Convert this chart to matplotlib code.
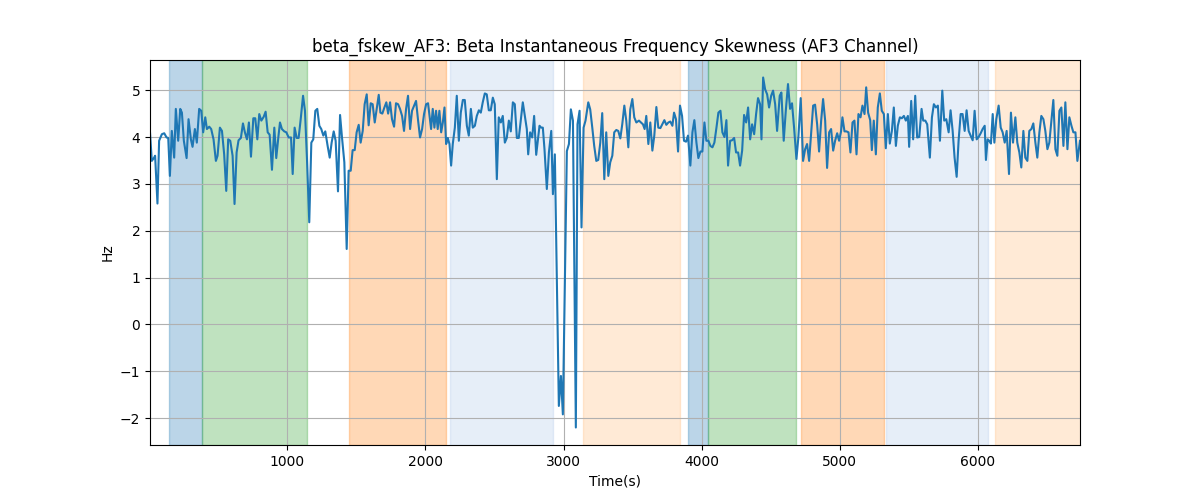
import matplotlib
matplotlib.use('Agg')
import matplotlib.pyplot as plt

title = 'beta_fskew_AF3: Beta Instantaneous Frequency Skewness (AF3 Channel)'

# time stamps (s) and skewness values (Hz)
time_s = [
    6, 19, 36, 43, 60, 72, 92, 109, 126, 138,
    150, 164, 181, 193, 210, 225, 237, 251, 271, 285,
    302, 314, 331, 345, 362, 377, 391, 406, 418, 435,
    449, 466, 483, 495, 512, 527, 543, 558, 572, 587,
    604, 618, 633, 647, 664, 679, 693, 708, 722, 737,
    754, 768, 783, 797, 812, 829, 843, 858, 872, 889,
    906, 920, 935, 947, 961, 978, 993, 1010,
    1027, 1039, 1053, 1068, 1082, 1097, 1114, 1128, 1143, 1159,
    1174, 1188, 1203, 1217, 1232, 1246, 1261, 1275, 1292, 1307,
    1321, 1336, 1350, 1367, 1382, 1396, 1413, 1430, 1444, 1459,
    1473, 1488, 1502, 1517, 1531, 1546, 1560, 1575, 1589, 1604,
    1618, 1633, 1647, 1662, 1674, 1688, 1703, 1717, 1730, 1744,
    1758, 1773, 1787, 1802, 1816, 1831, 1845, 1860, 1874, 1889,
    1903, 1918, 1932, 1947, 1961, 1976, 1990, 2005, 2019,
    2041, 2053, 2065, 2077, 2089, 2101, 2114, 2126, 2138, 2150,
    2162, 2174, 2186, 2198, 2213, 2227, 2242, 2256, 2271, 2285,
    2300, 2314, 2329, 2343, 2358, 2372, 2387, 2401, 2415, 2430,
    2444, 2459, 2473, 2488, 2502, 2517, 2531, 2546, 2560, 2575,
    2589, 2604, 2618, 2633, 2647, 2662, 2676, 2691, 2705, 2720,
    2734, 2744, 2758, 2773, 2787, 2802,
    2826, 2838, 2850, 2862, 2879, 2894, 2911, 2923, 2937, 2966,
    2981, 2995, 3024, 3039, 3053, 3068, 3089, 3101, 3116, 3130,
    3145, 3159, 3179, 3193, 3208, 3222, 3237, 3251, 3266, 3280,
    3295, 3309, 3324, 3338, 3353, 3367, 3382, 3396, 3411, 3425,
    3440, 3454, 3469, 3483, 3498, 3512, 3527, 3546,
    3575, 3587, 3599, 3614, 3628, 3643, 3657, 3672, 3686,
    3701, 3715, 3730, 3744, 3759, 3773, 3788, 3800, 3814, 3829,
    3843, 3858, 3872, 3887, 3901, 3918, 3933, 3947, 3962, 3976,
    3991, 4005, 4020, 4034, 4049, 4063, 4078, 4092, 4107, 4121,
    4136, 4150, 4165, 4179, 4191, 4206, 4220, 4235, 4249, 4264,
    4278, 4293, 4307, 4322, 4336, 4351, 4365, 4380, 4394, 4408,
    4423, 4433, 4445, 4459, 4474, 4488, 4503, 4517, 4532, 4546,
    4565, 4577, 4594, 4609, 4625, 4640, 4654, 4669, 4686, 4700,
    4717, 4734, 4749, 4763, 4778, 4792, 4807, 4821, 4836, 4850,
    4865, 4879, 4894, 4908, 4923, 4937, 4952, 4966, 4981, 4995,
    5009, 5019, 5034, 5048, 5063, 5077, 5092, 5106, 5121, 5135,
    5150, 5164, 5179, 5191, 5205, 5220, 5232, 5246, 5261, 5275,
    5290, 5304, 5319, 5333, 5348, 5362, 5377, 5391, 5406, 5420,
    5435, 5449, 5464, 5478, 5493, 5502, 5517, 5531, 5546, 5560,
    5575,
    5592, 5604, 5619, 5633, 5652, 5667, 5681, 5696, 5710, 5725,
    5742, 5756, 5771, 5788, 5802, 5817, 5831, 5846, 5860, 5875,
    5889, 5904, 5918, 5933, 5947, 5962, 5976, 5991, 6005, 6020,
    6034, 6049, 6058, 6070, 6082, 6094, 6107, 6119, 6133, 6150,
    6165, 6179, 6194, 6208, 6225, 6239, 6254, 6271, 6285, 6300,
    6314, 6329, 6343, 6358, 6372, 6387, 6401, 6416, 6430, 6445,
    6459, 6474, 6488, 6503, 6517, 6532, 6546, 6561, 6575, 6590,
    6604, 6619, 6633, 6648, 6662, 6677, 6691, 6706, 6720, 6739,
]

skew_hz = [
    4.1, 3.49, 3.56, 3.6, 2.58, 3.92, 4.06, 4.08, 3.99, 3.98,
    3.17, 4.13, 3.56, 4.6, 3.92, 4.6, 4.52, 3.92, 3.55, 4.38,
    3.95, 3.79, 4.17, 3.88, 4.6, 4.56, 4.1, 4.42, 4.17, 4.22,
    4.17, 3.95, 3.49, 3.6, 4.2, 4.13, 3.63, 2.85, 3.95, 3.92,
    3.6, 2.57, 3.67, 3.93, 3.98, 4.29, 4.1, 3.95, 4.31, 3.58,
    4.4, 4.4, 3.95, 4.49, 4.35, 4.43, 4.54, 4.1, 4.05, 3.3,
    4.2, 3.55, 3.99, 4.31, 4.17, 4.12, 4.1, 3.99,
    3.99, 3.21, 4.2, 3.98, 3.98, 4.38, 4.88, 4.56, 3.49, 2.18,
    3.88, 3.95, 4.56, 4.6, 4.24, 4.17, 4.03, 4.12, 3.81, 3.56,
    3.88, 4.12, 3.92, 2.84, 4.47, 3.99, 3.46, 1.61, 3.28, 3.28,
    3.72, 3.72, 4.1, 4.26, 3.88, 4.13, 4.7, 4.91, 4.25, 4.72,
    4.7, 4.31, 4.6, 4.9, 4.52, 4.5, 4.63, 4.74, 4.5, 4.74,
    4.38, 4.22, 4.72, 4.7, 4.6, 4.45, 4.13, 4.6, 4.88, 4.17,
    4.56, 4.67, 4.77, 4.35, 3.99, 4.17, 4.49, 4.7, 4.72,
    4.17, 4.6, 4.2, 4.56, 4.17, 4.56, 4.1, 4.31, 4.63, 3.85,
    3.98, 3.85, 3.39, 3.85, 4.2, 4.88, 3.92, 4.52, 4.79, 4.79,
    4.24, 4.03, 4.6, 4.2, 4.24, 4.45, 4.57, 4.52, 4.74, 4.93,
    4.91, 4.57, 4.57, 4.84, 4.7, 3.1, 4.42, 4.31, 4.45, 3.88,
    3.98, 4.35, 4.12, 4.74, 4.7, 3.98, 3.98, 4.38, 4.74, 4.45,
    4.17, 3.63, 4.1, 3.99, 4.45, 3.62,
    4.24, 4.2, 4.2, 3.74, 2.89, 3.67, 4.13, 2.78, 3.63, -1.74,
    -1.1, -1.92, 3.7, 3.85, 4.59, 4.35, -2.2, 4.27, 4.56, 2.07,
    4.2, 4.35, 4.74, 4.59, 4.2, 3.81, 3.49, 3.51, 3.88, 4.51,
    3.1, 4.1, 3.17, 3.46, 3.6, 4.1, 4.15, 4.13, 3.97, 4.27,
    4.67, 4.35, 3.78, 4.59, 4.81, 4.42, 4.31, 4.35,
    4.27, 4.17, 4.45, 3.85, 4.31, 3.71, 4.03, 4.64, 4.2,
    4.19, 4.27, 4.36, 4.26, 4.31, 4.33, 4.24, 4.52, 4.38, 3.69,
    4.67, 4.45, 3.92, 3.9, 4.03, 3.39, 4.1, 4.36, 3.88, 3.55,
    3.69, 3.69, 4.31, 3.92, 3.92, 3.81, 3.78, 3.88, 4.2, 4.52,
    4.56, 4.1, 4.0, 4.36, 3.39, 3.92, 3.93, 3.98, 3.67, 3.67,
    3.39, 3.71, 4.47, 4.31, 4.63, 3.95, 4.27, 4.06, 4.49, 4.83,
    4.7, 3.95, 5.27, 5.02, 4.91, 4.63, 4.88, 4.99, 4.7, 4.13,
    4.88, 4.95, 3.92, 4.56, 5.13, 4.6, 4.72, 4.2, 3.53, 3.99,
    4.83, 3.49, 3.74, 3.85, 3.49, 4.06, 4.67, 4.69, 4.27, 3.69,
    4.35, 4.81, 4.35, 3.34, 4.1, 4.17, 3.71, 3.92, 4.08, 3.92,
    4.12, 4.42, 4.12, 4.12, 4.1, 3.67, 4.31, 4.35, 3.63, 4.49,
    4.42, 4.67, 4.49, 5.06, 4.52, 4.36, 3.72, 4.35, 3.63, 4.63,
    4.93, 4.56, 4.49, 3.76, 4.49, 3.86, 4.13, 4.63, 3.81, 4.24,
    4.42, 4.4, 4.45, 4.35, 4.45, 3.79, 4.77, 3.95, 4.88, 3.99,
    4.0,
    4.6, 4.35, 4.35, 4.27, 3.56, 4.42, 4.7, 4.63, 4.67, 3.92,
    4.99, 4.35, 4.38, 4.1, 4.57, 4.13, 3.56, 3.15, 3.92, 4.49,
    4.49, 4.13, 4.57, 4.13, 4.03, 3.93, 4.56, 3.95, 4.0, 4.08,
    4.17, 4.24, 3.51, 3.95, 3.92, 3.86, 4.49, 3.88, 4.38, 4.67,
    4.2, 4.1, 3.88, 4.13, 3.21, 4.52, 3.88, 4.42, 3.88, 3.67,
    3.35, 4.13, 3.56, 3.49, 4.13, 4.17, 4.29, 3.88, 3.56, 4.1,
    4.45, 4.38, 4.13, 3.74, 3.88, 4.35, 4.79, 3.74, 3.6, 4.56,
    4.63, 3.81, 4.74, 3.74, 4.42, 4.24, 4.1, 4.1, 3.49, 3.92,
]

# shaded segments (start, end in seconds)
span_starts = [145, 384, 1449, 2181, 3140, 3901, 4043, 4717, 5338, 6123]
span_ends = [384, 1140, 2150, 2922, 3841, 4043, 4680, 5319, 6070, 6760]
span_colors = ['tab:blue', 'tab:green', 'tab:orange', '#aec7e8', '#ffbb78',
               'tab:blue', 'tab:green', 'tab:orange', '#aec7e8', '#ffbb78']

fig, ax = plt.subplots(figsize=(12, 5), dpi=100)

for start, end, col in zip(span_starts, span_ends, span_colors):
    ax.axvspan(start, end, color=col, alpha=0.3)

ax.plot(time_s, skew_hz, color='tab:blue', linewidth=1.5)

ax.set_xlim(time_s[0], time_s[-1])
ax.set_title(title)
ax.set_xlabel('Time(s)')
ax.set_ylabel('Hz')
ax.grid(True)

fig.savefig('out.png')
